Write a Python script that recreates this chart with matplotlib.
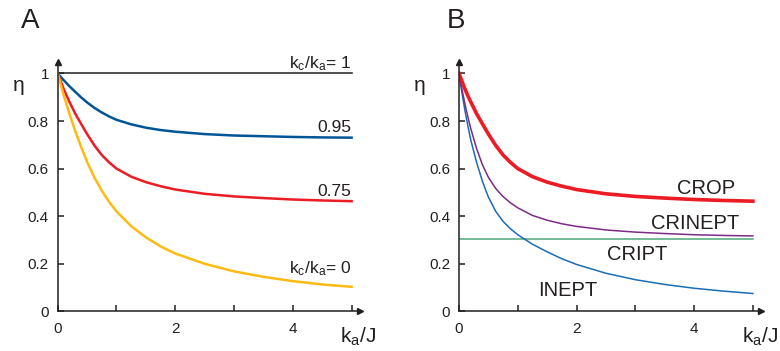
import matplotlib
matplotlib.use("Agg")
import matplotlib.pyplot as plt

plt.rcParams['font.family'] = ['Liberation Sans', 'DejaVu Sans']
plt.rcParams['mathtext.fontset'] = 'custom'
plt.rcParams['mathtext.rm'] = 'Liberation Sans'
plt.rcParams['mathtext.it'] = 'Liberation Sans'

INK = '#231f20'

# panel A: efficiency vs k_a/J for several k_c/k_a
xa = [0, 0.1, 0.2, 0.3, 0.4, 0.5, 0.625, 0.75, 0.875, 1, 1.25, 1.5, 1.75, 2,
      2.5, 3, 3.5, 4, 4.5, 5]
eta_1 = [1] * len(xa)
eta_095 = [1, 0.972, 0.946, 0.922, 0.899, 0.878, 0.855, 0.836, 0.819, 0.805,
           0.786, 0.772, 0.762, 0.755, 0.745, 0.739, 0.736, 0.733, 0.731, 0.730]
eta_075 = [1, 0.935, 0.88, 0.83, 0.787, 0.745, 0.697, 0.657, 0.626, 0.6,
           0.566, 0.543, 0.526, 0.512, 0.494, 0.483, 0.476, 0.470, 0.466, 0.463]
eta_0 = [1, 0.91, 0.83, 0.757, 0.69, 0.628, 0.562, 0.507, 0.46, 0.42,
         0.358, 0.311, 0.273, 0.243, 0.2, 0.168, 0.145, 0.127, 0.113, 0.103]

# panel B: pulse sequences
xb = [0, 0.05, 0.1, 0.15, 0.2, 0.3, 0.4, 0.5, 0.625, 0.75, 0.875, 1, 1.25, 1.5,
      1.75, 2, 2.5, 3, 3.5, 4, 4.5, 5]
crop = [1, 0.967, 0.935, 0.906, 0.88, 0.83, 0.787, 0.745, 0.697, 0.657, 0.626,
        0.6, 0.566, 0.543, 0.526, 0.512, 0.494, 0.483, 0.476, 0.470, 0.466, 0.463]
crinept = [1, 0.933, 0.872, 0.817, 0.768, 0.683, 0.615, 0.563, 0.516, 0.482,
           0.456, 0.435, 0.403, 0.383, 0.368, 0.357, 0.342, 0.333, 0.327,
           0.322, 0.319, 0.317]
cript = [0.305] * len(xb)
inept = [1, 0.918, 0.845, 0.78, 0.72, 0.625, 0.545, 0.48, 0.42, 0.378, 0.347,
         0.322, 0.282, 0.25, 0.221, 0.197, 0.16, 0.133, 0.113, 0.097, 0.085, 0.075]

yticks = [0, 0.2, 0.4, 0.6, 0.8, 1]
yticklabels = ['0', '0.2', '0.4', '0.6', '0.8', '1']
xticks = [0, 1, 2, 3, 4, 5]
xticklabels = ['0', '', '2', '', '4', '']

fig = plt.figure(figsize=(7.8, 3.51), dpi=100)
axA = fig.add_axes([0.074, 0.113, 0.387, 0.709])
axB = fig.add_axes([0.5885, 0.113, 0.387, 0.709])


def setup(ax):
    ax.set_xlim(0, 5.136)
    ax.set_ylim(0, 1.046)
    for s in ['top', 'right']:
        ax.spines[s].set_visible(False)
    for s in ['left', 'bottom']:
        ax.spines[s].set_linewidth(1.1)
        ax.spines[s].set_color(INK)
    ax.set_xticks(xticks)
    ax.set_xticklabels(xticklabels)
    ax.set_yticks(yticks)
    ax.set_yticklabels(yticklabels)
    ax.tick_params(axis='both', direction='in', length=4, width=1.1,
                   color=INK, labelcolor=INK, labelsize=11)
    ax.tick_params(axis='y', pad=6.3)
    ax.tick_params(axis='x', pad=7.7)
    ax.plot(1, 0, '>', color=INK, ms=5, transform=ax.get_yaxis_transform(), clip_on=False)
    ax.plot(0, 1, '^', color=INK, ms=5, transform=ax.get_xaxis_transform(), clip_on=False)
    ax.text(-0.67, 0.925, 'η', fontsize=15, color=INK, ha='center', va='baseline')
    ax.text(5.42, -0.133, r'$\mathrm{k_a}$/J', fontsize=15, color=INK,
            ha='right', va='baseline', clip_on=False)


setup(axA)
axA.plot(xa, eta_1, color=INK, lw=1.1)
axA.plot(xa, eta_095, color='#005596', lw=1.8)
axA.plot(xa, eta_075, color='#ec1c24', lw=1.8)
axA.plot(xa, eta_0, color='#fdba12', lw=1.8)
axA.text(5, 1.021, r'$\mathrm{k_c/k_a}$= 1', fontsize=12.5, color=INK, ha='right', va='baseline')
axA.text(5, 0.752, '0.95', fontsize=12.5, color=INK, ha='right', va='baseline')
axA.text(5, 0.486, '0.75', fontsize=12.5, color=INK, ha='right', va='baseline')
axA.text(5, 0.16, r'$\mathrm{k_c/k_a}$= 0', fontsize=12.5, color=INK, ha='right', va='baseline')

setup(axB)
axB.plot(xb, cript, color='#4fa77b', lw=1.1)
axB.plot(xb, inept, color='#1b6db3', lw=1.1)
axB.plot(xb, crinept, color='#7d2a87', lw=1.1)
axB.plot(xb, crop, color='#ec1c24', lw=2.6)
axB.text(4.2, 0.492, 'CROP', fontsize=14.5, color=INK, ha='center', va='baseline')
axB.text(4.02, 0.345, 'CRINEPT', fontsize=14.5, color=INK, ha='center', va='baseline')
axB.text(3.03, 0.216, 'CRIPT', fontsize=14.5, color=INK, ha='center', va='baseline')
axB.text(1.85, 0.064, 'INEPT', fontsize=14.5, color=INK, ha='center', va='baseline')

fig.text(21 / 780, 1 - 27.7 / 351, 'A', fontsize=20, color=INK, va='baseline')
fig.text(447 / 780, 1 - 27.7 / 351, 'B', fontsize=20, color=INK, va='baseline')

fig.savefig('out.png', dpi=100)
